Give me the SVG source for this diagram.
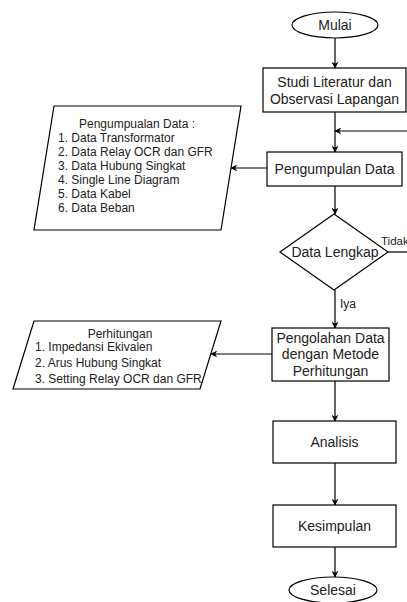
<svg xmlns="http://www.w3.org/2000/svg" width="407" height="602" viewBox="0 0 407 602">
<defs>
<marker id="arr" viewBox="0 0 10 10" refX="9" refY="5" markerWidth="7" markerHeight="7" markerUnits="userSpaceOnUse" orient="auto">
<path d="M0,0 L10,5 L0,10 L3,5 Z" fill="#000"/>
</marker>
<style>
.shape{fill:#fff;stroke:#000;stroke-width:1.2}
.t{font-family:"Liberation Sans",Arial,sans-serif;font-size:14px;fill:#222;text-anchor:middle}
.s{font-family:"Liberation Sans",Arial,sans-serif;font-size:12px;fill:#222}
.c{fill:none;stroke:#000;stroke-width:1.2;marker-end:url(#arr)}
.l{fill:none;stroke:#000;stroke-width:1.2}
</style>
</defs>
<rect width="407" height="602" fill="#fff"/>
<g id="connectors">
<path class="c" d="M335,38 L335,68"/>
<path class="c" d="M335,112 L335,152"/>
<path class="c" d="M420,252 L420,131 L335,131"/>
<path class="l" d="M388,252 L420,252"/>
<path class="c" d="M267,168 L231,168"/>
<path class="c" d="M335,186 L335,214"/>
<path class="c" d="M335,290 L335,328"/>
<path class="c" d="M272,354 L211,354"/>
<path class="c" d="M335,381 L335,421"/>
<path class="c" d="M335,463 L335,505"/>
<path class="c" d="M335,547 L335,577"/>
</g>
<g id="mulai">
<ellipse class="shape" cx="335" cy="25" rx="43" ry="13"/>
<text class="t" x="335" y="30">Mulai</text>
</g>
<g id="studi">
<rect class="shape" x="263" y="68" width="143" height="44"/>
<text class="t" x="334.5" y="87">Studi Literatur dan</text>
<text class="t" x="334.5" y="104">Observasi Lapangan</text>
</g>
<g id="pengumpulan">
<rect class="shape" x="267" y="152" width="135" height="34"/>
<text class="t" x="334.5" y="174">Pengumpulan Data</text>
</g>
<g id="data-list">
<polygon class="shape" points="54,106 241,106 221,230 34,230"/>
<text class="s" x="137" y="128" text-anchor="middle">Pengumpualan Data :</text>
<text class="s" x="58" y="142">1. Data Transformator</text>
<text class="s" x="58" y="156">2. Data Relay OCR dan GFR</text>
<text class="s" x="58" y="170">3. Data Hubung Singkat</text>
<text class="s" x="58" y="184">4. Single Line Diagram</text>
<text class="s" x="58" y="198">5. Data Kabel</text>
<text class="s" x="58" y="212">6. Data Beban</text>
</g>
<g id="lengkap">
<polygon class="shape" points="334,214 388,252 334,290 280,252"/>
<text class="t" x="335" y="257">Data Lengkap</text>
<text class="s" x="381" y="245" style="font-size:11.5px">Tidak</text>
</g>
<g id="iya-label">
<text class="s" x="340" y="308">Iya</text>
</g>
<g id="pengolahan">
<rect class="shape" x="272" y="328" width="117" height="53"/>
<text class="t" x="330.5" y="343">Pengolahan Data</text>
<text class="t" x="330.5" y="359">dengan Metode</text>
<text class="t" x="330.5" y="376">Perhitungan</text>
</g>
<g id="perhitungan">
<polygon class="shape" points="34,321 221,321 200,389 13,389"/>
<text class="s" x="120" y="338" text-anchor="middle">Perhitungan</text>
<text class="s" x="35" y="351">1. Impedansi Ekivalen</text>
<text class="s" x="35" y="367">2. Arus Hubung Singkat</text>
<text class="s" x="35" y="383">3. Setting Relay OCR dan GFR</text>
</g>
<g id="analisis">
<rect class="shape" x="273" y="421" width="123" height="42"/>
<text class="t" x="334.5" y="447">Analisis</text>
</g>
<g id="kesimpulan">
<rect class="shape" x="273" y="505" width="123" height="42"/>
<text class="t" x="334.5" y="531">Kesimpulan</text>
</g>
<g id="selesai">
<ellipse class="shape" cx="333" cy="590" rx="44" ry="13"/>
<text class="t" x="333" y="595">Selesai</text>
</g>
</svg>
